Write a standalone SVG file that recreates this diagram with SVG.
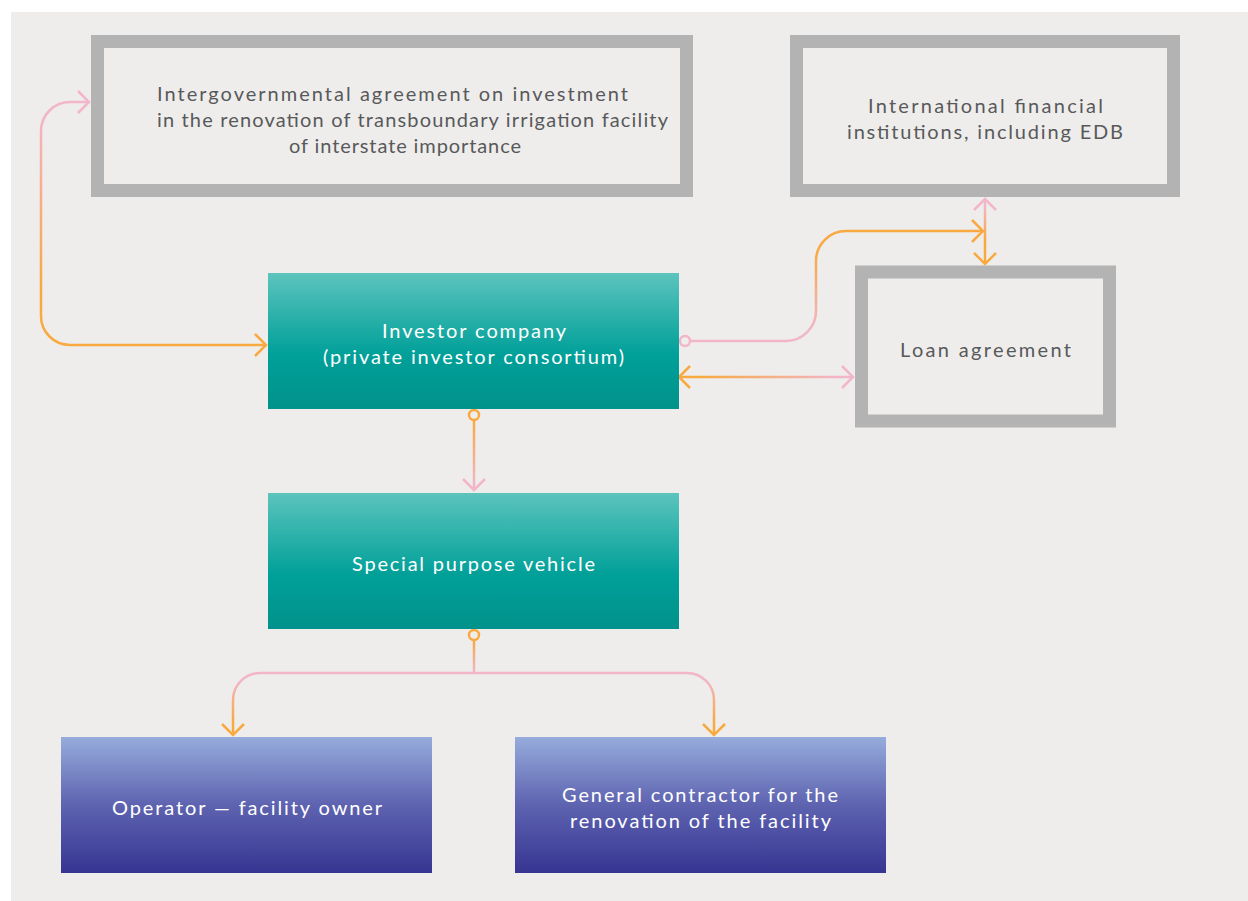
<svg xmlns="http://www.w3.org/2000/svg" width="1248" height="901" viewBox="0 0 1248 901">
<style>
.frame{fill:#eeedeb;stroke:#b3b3b3;stroke-width:13}
.dark{font-family:Lato,"Noto Sans",sans-serif;font-size:20px;fill:#58595b;text-anchor:middle}
.light{font-family:Lato,"Noto Sans",sans-serif;font-size:20px;fill:#ffffff;text-anchor:middle}
.conn{fill:none;stroke-width:2.5}
</style>
<defs>
<linearGradient id="teal" x1="0" y1="0" x2="0" y2="1">
<stop offset="0" stop-color="#5cc4bd"/>
<stop offset="0.6" stop-color="#00a099"/>
<stop offset="1" stop-color="#00928b"/>
</linearGradient>
<linearGradient id="blue" x1="0" y1="0" x2="0" y2="1">
<stop offset="0" stop-color="#96acdc"/>
<stop offset="0.5" stop-color="#5e63b0"/>
<stop offset="1" stop-color="#363592"/>
</linearGradient>
<linearGradient id="g1" gradientUnits="userSpaceOnUse" x1="0" y1="110" x2="0" y2="290">
<stop offset="0" stop-color="#f2b5c9"/><stop offset="1" stop-color="#f8a940"/>
</linearGradient>
<linearGradient id="g2" gradientUnits="userSpaceOnUse" x1="0" y1="330" x2="0" y2="250">
<stop offset="0" stop-color="#f2b5c9"/><stop offset="1" stop-color="#f8a940"/>
</linearGradient>
<linearGradient id="g3" gradientUnits="userSpaceOnUse" x1="0" y1="205" x2="0" y2="240">
<stop offset="0" stop-color="#f2b5c9"/><stop offset="1" stop-color="#f8a940"/>
</linearGradient>
<linearGradient id="g4" gradientUnits="userSpaceOnUse" x1="700" y1="0" x2="840" y2="0">
<stop offset="0" stop-color="#f8a940"/><stop offset="1" stop-color="#f2b5c9"/>
</linearGradient>
<linearGradient id="g5" gradientUnits="userSpaceOnUse" x1="0" y1="420" x2="0" y2="485">
<stop offset="0" stop-color="#f8a940"/><stop offset="1" stop-color="#f2b5c9"/>
</linearGradient>
<linearGradient id="g6" gradientUnits="userSpaceOnUse" x1="0" y1="640" x2="0" y2="672">
<stop offset="0" stop-color="#f8a940"/><stop offset="1" stop-color="#f2b5c9"/>
</linearGradient>
<linearGradient id="g7" gradientUnits="userSpaceOnUse" x1="0" y1="680" x2="0" y2="722">
<stop offset="0" stop-color="#f2b5c9"/><stop offset="1" stop-color="#f8a940"/>
</linearGradient>
<marker id="ao" markerUnits="userSpaceOnUse" viewBox="-14 -14 16 28" refX="0" refY="0" markerWidth="16" markerHeight="28" orient="auto-start-reverse">
<path d="M-11,-11 L0,0 L-11,11" fill="none" stroke="#f8a940" stroke-width="2.5"/>
</marker>
<marker id="ap" markerUnits="userSpaceOnUse" viewBox="-14 -14 16 28" refX="0" refY="0" markerWidth="16" markerHeight="28" orient="auto-start-reverse">
<path d="M-11,-11 L0,0 L-11,11" fill="none" stroke="#f2b5c9" stroke-width="2.5"/>
</marker>
<marker id="co" markerUnits="userSpaceOnUse" viewBox="-8 -8 16 16" refX="0" refY="0" markerWidth="16" markerHeight="16" orient="0">
<circle r="5" fill="#eeedeb" stroke="#f8a940" stroke-width="2.5"/>
</marker>
<marker id="cp" markerUnits="userSpaceOnUse" viewBox="-8 -8 16 16" refX="0" refY="0" markerWidth="16" markerHeight="16" orient="0">
<circle r="5" fill="#eeedeb" stroke="#f2b5c9" stroke-width="2.5"/>
</marker>
</defs>
<rect x="11" y="12" width="1237" height="889" fill="#eeedeb"/>
<g id="connectors">
<path class="conn" stroke="url(#g1)" d="M 89 102 H 70 A 29 29 0 0 0 41 131 V 316 A 29 29 0 0 0 70 345 H 266" marker-start="url(#ap)" marker-end="url(#ao)"/>
<path class="conn" stroke="url(#g2)" d="M 685 341 H 786 A 30 30 0 0 0 816 311 V 261 A 30 30 0 0 1 846 231 H 983" marker-start="url(#cp)" marker-end="url(#ao)"/>
<path class="conn" stroke="url(#g3)" d="M 985 199 V 264" marker-start="url(#ap)" marker-end="url(#ao)"/>
<path class="conn" stroke="url(#g4)" d="M 679 377 H 853" marker-start="url(#ao)" marker-end="url(#ap)"/>
<path class="conn" stroke="url(#g5)" d="M 474 415 V 490" marker-start="url(#co)" marker-end="url(#ap)"/>
<path class="conn" stroke="url(#g6)" d="M 474 635 V 673" marker-start="url(#co)"/>
<path class="conn" stroke="url(#g7)" d="M 474 673 H 260 A 27 27 0 0 0 233 700 V 735" marker-end="url(#ao)"/>
<path class="conn" stroke="url(#g7)" d="M 474 673 H 687 A 27 27 0 0 1 714 700 V 735" marker-end="url(#ao)"/>
</g>
<g id="intergovernmental">
<rect class="frame" x="97.5" y="41.5" width="589" height="149"/>
<text class="dark" x="392.5" y="101" textLength="471" lengthAdjust="spacing">Intergovernmental agreement on investment</text>
<text class="dark" x="412.5" y="127" textLength="511" lengthAdjust="spacing">in the renovation of transboundary irrigation facility</text>
<text class="dark" x="405" y="153" textLength="232" lengthAdjust="spacing">of interstate importance</text>
</g>
<g id="ifi">
<rect class="frame" x="796.5" y="41.5" width="377" height="149"/>
<text class="dark" x="985.5" y="113" textLength="235" lengthAdjust="spacing">International financial</text>
<text class="dark" x="985" y="139" textLength="276" lengthAdjust="spacing">institutions, including EDB</text>
</g>
<g id="loan">
<rect class="frame" x="861.5" y="272" width="248" height="149"/>
<text class="dark" x="985.5" y="357" textLength="171" lengthAdjust="spacing">Loan agreement</text>
</g>
<g id="investor">
<rect x="268" y="273" width="411" height="136" fill="url(#teal)"/>
<text class="light" x="474" y="338" textLength="184" lengthAdjust="spacing">Investor company</text>
<text class="light" x="473.5" y="364" textLength="301" lengthAdjust="spacing">(private investor consortium)</text>
</g>
<g id="spv">
<rect x="268" y="493" width="411" height="136" fill="url(#teal)"/>
<text class="light" x="473.5" y="571" textLength="243" lengthAdjust="spacing">Special purpose vehicle</text>
</g>
<g id="operator">
<rect x="61" y="737" width="371" height="136" fill="url(#blue)"/>
<text class="light" x="247" y="815" textLength="270" lengthAdjust="spacing">Operator — facility owner</text>
</g>
<g id="contractor">
<rect x="515" y="737" width="371" height="136" fill="url(#blue)"/>
<text class="light" x="700" y="802" textLength="276" lengthAdjust="spacing">General contractor for the</text>
<text class="light" x="700.5" y="828" textLength="261" lengthAdjust="spacing">renovation of the facility</text>
</g>
</svg>
